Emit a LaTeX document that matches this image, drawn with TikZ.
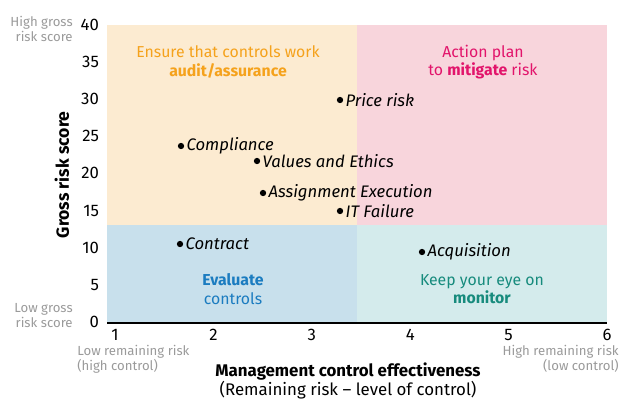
\documentclass[tikz,border=0pt]{standalone}
\usepackage{fontspec}
\setmainfont{Fira Sans}
\usepackage{xcolor}

\definecolor{auditbg}{HTML}{FCEBD1}
\definecolor{mitigbg}{HTML}{F8D5DC}
\definecolor{evalbg}{HTML}{C8E0EC}
\definecolor{monibg}{HTML}{D4EBEC}
\definecolor{audittxt}{HTML}{F5A21C}
\definecolor{mitigtxt}{HTML}{E2146B}
\definecolor{evaltxt}{HTML}{1B7CC0}
\definecolor{monitxt}{HTML}{178B7D}
\definecolor{hinttxt}{HTML}{9A9A9A}

\tikzset{
    risk/.style={circle, fill=black, inner sep=0pt, minimum size=3.6pt},
    risklabel/.style={right, inner sep=1pt, font=\fontsize{9.5}{10}\selectfont\itshape},
    tick/.style={font=\fontsize{9.5}{10}\selectfont, inner sep=1pt},
    hint/.style={font=\fontsize{7.5}{8.5}\selectfont, text=hinttxt, inner sep=0pt, align=right},
    quadtext/.style={font=\fontsize{9}{10.5}\selectfont, align=center, inner sep=0pt}
}

\begin{document}
\begin{tikzpicture}[x=0.02cm, y=-0.02cm]
    \useasboundingbox (0,0) rectangle (622,399);

    % quadrants
    \draw[draw=none, fill=auditbg] (107,25) rectangle (357,225);
    \draw[draw=none, fill=mitigbg] (357,25) rectangle (607,225);
    \draw[draw=none, fill=evalbg] (107,225) rectangle (357,323);
    \draw[draw=none, fill=monibg] (357,225) rectangle (607,323);
    \draw[black, line width=0.7pt] (107,323) -- (607,323);

    % quadrant texts
    \node[quadtext, text=audittxt] (audit) at (228,62) {Ensure that controls work\\\textbf{audit/assurance}};
    \node[quadtext, text=mitigtxt] (mitig) at (483,62) {Action plan\\to \textbf{mitigate} risk};
    \node[quadtext, text=evaltxt] (eval) at (233,289) {\textbf{Evaluate}\\controls};
    \node[quadtext, text=monitxt] (moni) at (482,289) {Keep your eye on\\\textbf{monitor}};

    % y ticks
    \foreach \v in {0,5,...,40}
        \node[tick, anchor=east] (y\v) at (101,{322-7.43*\v}) {\v};
    \node[hint, anchor=east] (ytop) at (73,29) {High gross\\risk score};
    \node[hint, anchor=east] (ybot) at (73,316) {Low gross\\risk score};
    \node[rotate=90, font=\fontsize{10}{12}\selectfont\bfseries] (ylab) at (62,175) {Gross risk score};

    % x ticks
    \foreach \v in {1,...,6}
        \node[tick] (x\v) at ({115+98.4*(\v-1)},335) {\v};
    \node[hint, anchor=west, align=left] (xlow) at (77,359) {Low remaining risk\\(high control)};
    \node[hint, anchor=east] (xhigh) at (619,359) {High remaining risk\\(low control)};
    \node[font=\fontsize{9.6}{12}\selectfont\bfseries] (xlab) at (348,372) {Management control effectiveness};
    \node[font=\fontsize{9.6}{12}\selectfont] (xsub) at (348,390) {(Remaining risk – level of control)};

    % risks
    \node[risk] (price) at (340,100) {};
    \node[risklabel] at (price.east) {Price risk};
    \node[risk] (compl) at (181,146) {};
    \node[risklabel] at (compl.east) {Compliance};
    \node[risk] (values) at (257,161) {};
    \node[risklabel] at (values.east) {Values and Ethics};
    \node[risk] (assign) at (263,193) {};
    \node[risklabel] at (assign.east) {Assignment Execution};
    \node[risk] (itfail) at (340,211) {};
    \node[risklabel] at (itfail.east) {IT Failure};
    \node[risk] (contract) at (180,244) {};
    \node[risklabel] at (contract.east) {Contract};
    \node[risk] (acqui) at (422,252) {};
    \node[risklabel] at (acqui.east) {Acquisition};
\end{tikzpicture}
\end{document}
